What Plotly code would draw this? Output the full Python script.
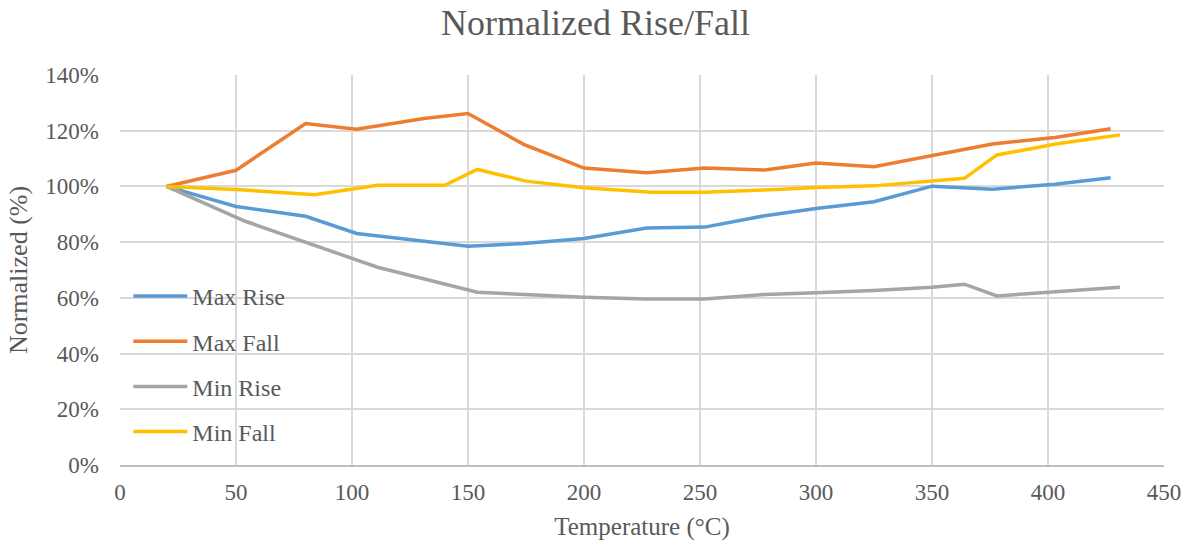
import plotly.graph_objects as go

# ---- data ----
max_rise_x = [20, 50, 80, 102, 150, 174, 200, 227, 252, 278, 300, 325, 350, 376, 403, 427]
max_rise_y = [100, 92.8, 89.3, 83.1, 78.5, 79.5, 81.3, 85.1, 85.4, 89.5, 92.1, 94.5, 100.1, 99.0, 100.8, 103.1]

max_fall_x = [20, 50, 80, 102, 131, 150, 174, 200, 227, 252, 278, 300, 325, 350, 376, 403, 427]
max_fall_y = [100, 105.8, 122.6, 120.5, 124.4, 126.2, 115.1, 106.6, 104.9, 106.6, 105.9, 108.4, 107.1, 111.0, 115.2, 117.6, 120.7]

min_rise_x = [20, 54, 111, 154, 200, 227, 252, 278, 300, 325, 350, 364, 378, 404, 431]
min_rise_y = [100, 87.5, 71.0, 62.0, 60.2, 59.6, 59.6, 61.2, 61.8, 62.6, 63.8, 64.9, 60.7, 62.3, 63.8]

min_fall_x = [20, 50, 84, 111, 140, 154, 175, 200, 229, 252, 283, 300, 325, 350, 364, 378, 404, 431]
min_fall_y = [100, 98.9, 97.0, 100.4, 100.4, 106.1, 101.9, 99.5, 97.9, 97.9, 98.9, 99.6, 100.2, 101.8, 102.9, 111.3, 115.3, 118.5]

series_names = ["Max Rise", "Max Fall", "Min Rise", "Min Fall"]
series_colors = ["#5B9BD5", "#ED7D31", "#A5A5A5", "#FFC000"]

title_text = "Normalized Rise/Fall"
x_title = "Temperature (°C)"
y_title = "Normalized (%)"

FONT = "Liberation Serif, Times New Roman, serif"
TXT = "#595959"

fig = go.Figure()
xs = [max_rise_x, max_fall_x, min_rise_x, min_fall_x]
ys = [max_rise_y, max_fall_y, min_rise_y, min_fall_y]
for i, (name, color) in enumerate(zip(series_names, series_colors)):
    fig.add_trace(go.Scatter(
        x=xs[i], y=ys[i], mode="lines", name=name,
        line=dict(color=color, width=3.5),
        legendgroup=f"g{i}",
    ))

fig.update_layout(
    width=1191, height=550,
    margin=dict(l=120, r=27, t=75, b=85, autoexpand=False),
    paper_bgcolor="white", plot_bgcolor="white",
    font=dict(family=FONT, color=TXT, size=23),
    title=dict(text=title_text, x=0.5, xanchor="center", y=1 - 22 / 550, yref="container",
               yanchor="middle", font=dict(family=FONT, size=36, color=TXT)),
    showlegend=True,
    legend=dict(x=0.008, y=0.49, xanchor="left", yanchor="top",
                bgcolor="rgba(0,0,0,0)", font=dict(family=FONT, size=24, color=TXT),
                tracegroupgap=11, itemwidth=54),
)

fig.update_xaxes(
    range=[0, 450], dtick=50, tick0=0,
    showgrid=True, gridcolor="#D9D9D9", gridwidth=1.5,
    zeroline=False, showline=True, linecolor="#BFBFBF", linewidth=1.5,
    ticks="", ticklabelstandoff=6, automargin=False,
    tickfont=dict(family=FONT, size=23, color=TXT),
    title=dict(text=x_title, font=dict(family=FONT, size=25, color=TXT), standoff=13),
)
fig.update_yaxes(
    range=[0, 140], dtick=20, tick0=0, ticksuffix="%",
    showgrid=True, gridcolor="#D9D9D9", gridwidth=1.5,
    zeroline=False, showline=False,
    ticks="", ticklabelstandoff=20, automargin=False,
    tickfont=dict(family=FONT, size=23, color=TXT),
    title=dict(text=y_title, font=dict(family=FONT, size=26, color=TXT), standoff=10),
)

fig.write_html("out.html", config={"displayModeBar": False},
               post_script="document.body.style.margin='0';document.body.style.padding='0';")
